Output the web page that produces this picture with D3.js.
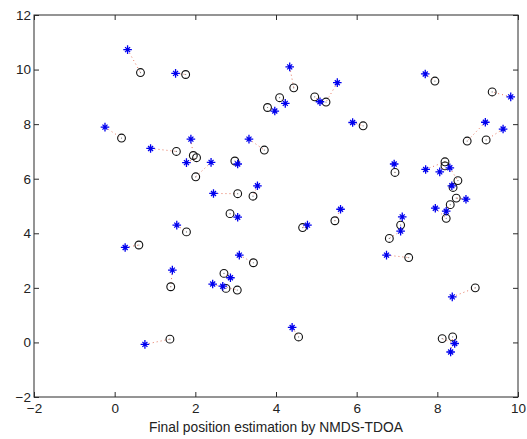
<!DOCTYPE html>
<html>
<head>
<meta charset="utf-8">
<script src="https://cdn.jsdelivr.net/npm/d3@7/dist/d3.min.js"></script>
<style>
  html, body { margin: 0; padding: 0; background: #fff; }
  svg { display: block; }
  text { font-family: "Liberation Sans", Arial, sans-serif; }
</style>
</head>
<body>
<svg id="chart" width="527" height="439"></svg>
<script>
// Estimated node positions (asterisks)
const estX = [0.32, 1.51, -0.24, 0.89, 1.89, 1.78, 2.39, 2.45, 3.05, 3.33, 3.54, 3.05, 3.97, 4.34, 4.23, 5.09, 5.52, 5.90, 7.70, 9.82, 9.19, 9.63, 6.93, 7.71, 8.06, 8.31, 8.36, 8.71, 8.22, 7.95, 5.60, 4.78, 7.13, 7.09, 6.74, 8.37, 4.40, 8.43, 8.33, 0.26, 1.54, 1.43, 0.75, 3.09, 2.87, 2.43, 2.68];
const estY = [10.73, 9.86, 7.89, 7.11, 7.45, 6.59, 6.60, 5.46, 6.54, 7.45, 5.74, 4.59, 8.48, 10.10, 8.76, 8.82, 9.52, 8.06, 9.84, 9.00, 8.07, 7.82, 6.54, 6.34, 6.25, 6.40, 5.74, 5.25, 4.81, 4.92, 4.88, 4.30, 4.60, 4.08, 3.20, 1.67, 0.55, -0.04, -0.35, 3.48, 4.30, 2.65, -0.07, 3.20, 2.37, 2.14, 2.06];
// True node positions (circles)
const trueX = [0.64, 1.76, 0.17, 1.53, 1.95, 2.03, 2.01, 3.05, 2.98, 3.71, 3.43, 2.86, 3.79, 4.44, 4.09, 4.96, 5.24, 6.16, 7.94, 9.36, 8.74, 9.21, 6.95, 8.19, 8.19, 8.51, 8.39, 8.47, 8.32, 8.22, 5.46, 4.66, 7.09, 6.81, 7.29, 8.94, 4.56, 8.12, 8.38, 0.60, 1.78, 1.39, 1.37, 3.44, 2.71, 2.76, 3.04];
const trueY = [9.89, 9.82, 7.49, 7.00, 6.85, 6.77, 6.07, 5.45, 6.65, 7.05, 5.36, 4.72, 8.61, 9.33, 8.97, 9.00, 8.81, 7.94, 9.58, 9.18, 7.38, 7.42, 6.23, 6.62, 6.47, 5.93, 5.68, 5.29, 5.05, 4.55, 4.46, 4.21, 4.30, 3.81, 3.11, 2.00, 0.20, 0.14, 0.20, 3.57, 4.05, 2.04, 0.12, 2.92, 2.53, 1.98, 1.92];

const xTicks = [-2, 0, 2, 4, 6, 8, 10];
const yTicks = [-2, 0, 2, 4, 6, 8, 10, 12];
const xLabel = "Final position estimation by NMDS-TDOA";

const svg = d3.select("#chart");
const m = { left: 34, right: 518, top: 15, bottom: 397 };

const x = d3.scaleLinear().domain([-2, 10]).range([m.left, m.right]);
const y = d3.scaleLinear().domain([-2, 12]).range([m.bottom, m.top]);

const frameColor = "#2b2b2b";
const tickLen = 5;

// Axes with inward ticks on all four sides
const axisStyle = g => {
  g.select(".domain").remove();
  g.selectAll(".tick line").attr("stroke", frameColor);
  g.selectAll(".tick text")
    .attr("fill", "#222")
    .style("font-size", "13.5px")
    .style("font-family", "'Liberation Sans', Arial, sans-serif");
};

svg.append("g")
  .attr("transform", `translate(0,${m.bottom})`)
  .call(d3.axisBottom(x).tickValues(xTicks).tickFormat(d3.format("d"))
        .tickSizeInner(-tickLen).tickSizeOuter(0).tickPadding(6))
  .call(axisStyle);

svg.append("g")
  .attr("transform", `translate(0,${m.top})`)
  .call(d3.axisTop(x).tickValues(xTicks).tickFormat("")
        .tickSizeInner(-tickLen).tickSizeOuter(0))
  .call(axisStyle);

svg.append("g")
  .attr("transform", `translate(${m.left},0)`)
  .call(d3.axisLeft(y).tickValues(yTicks).tickFormat(d3.format("d"))
        .tickSizeInner(-tickLen).tickSizeOuter(0).tickPadding(3))
  .call(axisStyle);

svg.append("g")
  .attr("transform", `translate(${m.right},0)`)
  .call(d3.axisRight(y).tickValues(yTicks).tickFormat("")
        .tickSizeInner(-tickLen).tickSizeOuter(0))
  .call(axisStyle);

// Plot frame
svg.append("rect")
  .attr("x", m.left).attr("y", m.top)
  .attr("width", m.right - m.left).attr("height", m.bottom - m.top)
  .attr("fill", "none").attr("stroke", frameColor).attr("stroke-width", 1);

const pairs = d3.range(estX.length).map(i => ({
  ex: estX[i], ey: estY[i], tx: trueX[i], ty: trueY[i]
}));

// Dotted error links between estimate and true position
svg.append("g").selectAll("line").data(pairs).join("line")
  .attr("x1", d => x(d.ex)).attr("y1", d => y(d.ey))
  .attr("x2", d => x(d.tx)).attr("y2", d => y(d.ty))
  .attr("stroke", "#e04a2a")
  .attr("stroke-width", 1)
  .attr("stroke-dasharray", "1,3")
  .attr("opacity", 0.75);

// True positions: black open circles
const circ = svg.append("g").selectAll("g").data(pairs).join("g")
  .attr("transform", d => `translate(${x(d.tx)},${y(d.ty)})`);
circ.append("circle")
  .attr("r", 3.9)
  .attr("fill", "none")
  .attr("stroke", "#111")
  .attr("stroke-width", 1.1);
circ.append("circle")
  .attr("r", 0.6)
  .attr("fill", "#777");

// Estimates: blue asterisks (plus + short cross)
const a = 4.3, b = 2.5;
const starPath = `M${-a},0H${a}M0,${-a}V${a}M${-b},${-b}L${b},${b}M${-b},${b}L${b},${-b}`;
svg.append("g").selectAll("path").data(pairs).join("path")
  .attr("transform", d => `translate(${x(d.ex)},${y(d.ey)})`)
  .attr("d", starPath)
  .attr("fill", "none")
  .attr("stroke", "#0000ee")
  .attr("stroke-width", 1.3);

// X axis title
svg.append("text")
  .attr("x", (m.left + m.right) / 2)
  .attr("y", 432)
  .attr("text-anchor", "middle")
  .attr("fill", "#222")
  .style("font-size", "13.8px")
  .text(xLabel);
</script>
</body>
</html>
